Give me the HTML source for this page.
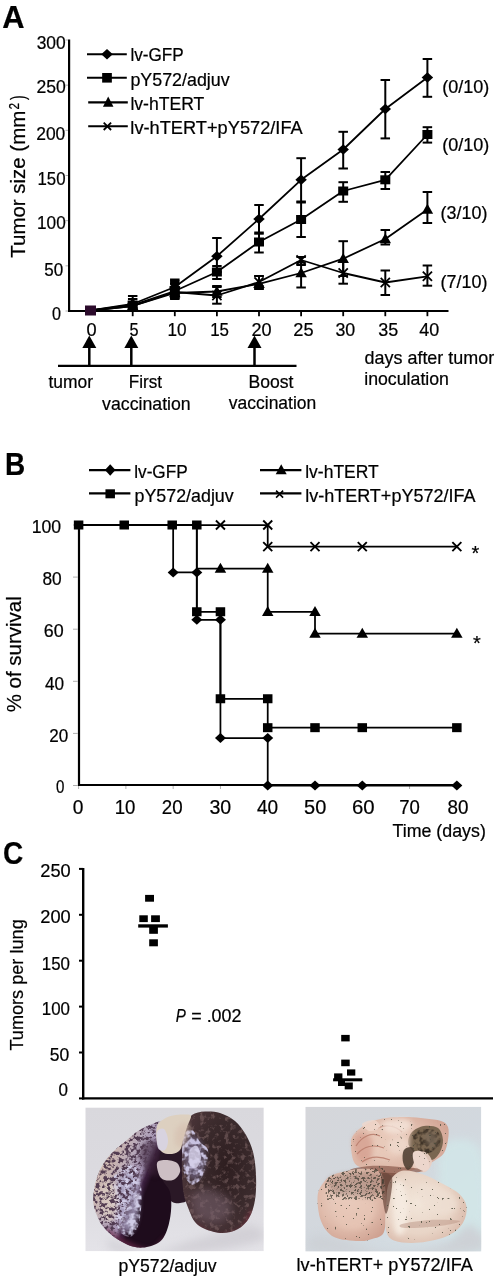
<!DOCTYPE html>
<html><head><meta charset="utf-8"><style>
html,body{margin:0;padding:0;background:#fff;}
svg{display:block;will-change:transform;}
text{font-family:"Liberation Sans",sans-serif;stroke:#000;stroke-width:0.22px;}
</style></head><body>
<svg width="496" height="1280" viewBox="0 0 496 1280">
<rect width="496" height="1280" fill="#ffffff"/>
<text x="2.22" y="27.90" font-size="30.5" font-weight="bold" textLength="22.27" lengthAdjust="spacingAndGlyphs" fill="#000">A</text>
<line x1="69.10" y1="39.50" x2="69.10" y2="312.10" stroke="#000" stroke-width="2.2"/>
<line x1="68.00" y1="311.00" x2="448.50" y2="311.00" stroke="#000" stroke-width="2.2"/>
<line x1="65.50" y1="311.00" x2="68.00" y2="311.00" stroke="#b0b0b0" stroke-width="1"/>
<line x1="65.50" y1="265.83" x2="68.00" y2="265.83" stroke="#b0b0b0" stroke-width="1"/>
<line x1="65.50" y1="220.67" x2="68.00" y2="220.67" stroke="#b0b0b0" stroke-width="1"/>
<line x1="65.50" y1="175.50" x2="68.00" y2="175.50" stroke="#b0b0b0" stroke-width="1"/>
<line x1="65.50" y1="130.33" x2="68.00" y2="130.33" stroke="#b0b0b0" stroke-width="1"/>
<line x1="65.50" y1="85.17" x2="68.00" y2="85.17" stroke="#b0b0b0" stroke-width="1"/>
<line x1="65.50" y1="40.00" x2="68.00" y2="40.00" stroke="#b0b0b0" stroke-width="1"/>
<line x1="132.70" y1="312.00" x2="132.70" y2="316.20" stroke="#000" stroke-width="1.8"/>
<line x1="174.80" y1="312.00" x2="174.80" y2="316.20" stroke="#000" stroke-width="1.8"/>
<line x1="216.90" y1="312.00" x2="216.90" y2="316.20" stroke="#000" stroke-width="1.8"/>
<line x1="259.00" y1="312.00" x2="259.00" y2="316.20" stroke="#000" stroke-width="1.8"/>
<line x1="301.10" y1="312.00" x2="301.10" y2="316.20" stroke="#000" stroke-width="1.8"/>
<line x1="343.20" y1="312.00" x2="343.20" y2="316.20" stroke="#000" stroke-width="1.8"/>
<line x1="385.30" y1="312.00" x2="385.30" y2="316.20" stroke="#000" stroke-width="1.8"/>
<line x1="427.40" y1="312.00" x2="427.40" y2="316.20" stroke="#000" stroke-width="1.8"/>
<text x="36.66" y="49.10" font-size="18.2" textLength="29.08" lengthAdjust="spacingAndGlyphs" fill="#000">300</text>
<text x="36.38" y="93.45" font-size="18.2" textLength="29.36" lengthAdjust="spacingAndGlyphs" fill="#000">250</text>
<text x="36.18" y="140.30" font-size="18.2" textLength="29.15" lengthAdjust="spacingAndGlyphs" fill="#000">200</text>
<text x="37.45" y="184.60" font-size="18.2" textLength="28.07" lengthAdjust="spacingAndGlyphs" fill="#000">150</text>
<text x="37.02" y="229.30" font-size="18.2" textLength="28.70" lengthAdjust="spacingAndGlyphs" fill="#000">100</text>
<text x="44.17" y="275.70" font-size="18.2" textLength="18.96" lengthAdjust="spacingAndGlyphs" fill="#000">50</text>
<text x="51.99" y="319.70" font-size="18.2" textLength="9.01" lengthAdjust="spacingAndGlyphs" fill="#000">0</text>
<text x="86.53" y="335.50" font-size="18.2" textLength="10.12" lengthAdjust="spacingAndGlyphs" fill="#000">0</text>
<text x="129.39" y="335.50" font-size="18.2" textLength="9.07" lengthAdjust="spacingAndGlyphs" fill="#000">5</text>
<text x="167.53" y="335.50" font-size="18.2" textLength="19.10" lengthAdjust="spacingAndGlyphs" fill="#000">10</text>
<text x="210.14" y="335.50" font-size="18.2" textLength="18.85" lengthAdjust="spacingAndGlyphs" fill="#000">15</text>
<text x="251.45" y="335.50" font-size="18.2" textLength="20.10" lengthAdjust="spacingAndGlyphs" fill="#000">20</text>
<text x="293.34" y="335.50" font-size="18.2" textLength="20.29" lengthAdjust="spacingAndGlyphs" fill="#000">25</text>
<text x="335.44" y="335.50" font-size="18.2" textLength="19.80" lengthAdjust="spacingAndGlyphs" fill="#000">30</text>
<text x="378.34" y="335.50" font-size="18.2" textLength="19.99" lengthAdjust="spacingAndGlyphs" fill="#000">35</text>
<text x="419.22" y="335.50" font-size="18.2" textLength="19.93" lengthAdjust="spacingAndGlyphs" fill="#000">40</text>
<text transform="rotate(-90)" x="-257.72" y="24.90" font-size="20" textLength="146.98" lengthAdjust="spacingAndGlyphs">Tumor size (mm</text>
<text transform="rotate(-90)" x="-109.55" y="18.70" font-size="14" textLength="6.53" lengthAdjust="spacingAndGlyphs">2</text>
<text transform="rotate(-90)" x="-100.10" y="24.90" font-size="20" textLength="4.74" lengthAdjust="spacingAndGlyphs">)</text>
<line x1="132.70" y1="296.00" x2="132.70" y2="308.00" stroke="#000" stroke-width="2"/>
<line x1="127.95" y1="296.00" x2="137.45" y2="296.00" stroke="#000" stroke-width="2"/>
<line x1="127.95" y1="308.00" x2="137.45" y2="308.00" stroke="#000" stroke-width="2"/>
<line x1="174.80" y1="279.50" x2="174.80" y2="295.00" stroke="#000" stroke-width="2"/>
<line x1="170.05" y1="279.50" x2="179.55" y2="279.50" stroke="#000" stroke-width="2"/>
<line x1="170.05" y1="295.00" x2="179.55" y2="295.00" stroke="#000" stroke-width="2"/>
<line x1="216.90" y1="238.00" x2="216.90" y2="272.00" stroke="#000" stroke-width="2"/>
<line x1="212.15" y1="238.00" x2="221.65" y2="238.00" stroke="#000" stroke-width="2"/>
<line x1="212.15" y1="272.00" x2="221.65" y2="272.00" stroke="#000" stroke-width="2"/>
<line x1="259.00" y1="205.00" x2="259.00" y2="232.50" stroke="#000" stroke-width="2"/>
<line x1="254.25" y1="205.00" x2="263.75" y2="205.00" stroke="#000" stroke-width="2"/>
<line x1="254.25" y1="232.50" x2="263.75" y2="232.50" stroke="#000" stroke-width="2"/>
<line x1="301.10" y1="158.20" x2="301.10" y2="201.50" stroke="#000" stroke-width="2"/>
<line x1="296.35" y1="158.20" x2="305.85" y2="158.20" stroke="#000" stroke-width="2"/>
<line x1="296.35" y1="201.50" x2="305.85" y2="201.50" stroke="#000" stroke-width="2"/>
<line x1="343.20" y1="131.80" x2="343.20" y2="168.50" stroke="#000" stroke-width="2"/>
<line x1="338.45" y1="131.80" x2="347.95" y2="131.80" stroke="#000" stroke-width="2"/>
<line x1="338.45" y1="168.50" x2="347.95" y2="168.50" stroke="#000" stroke-width="2"/>
<line x1="385.30" y1="80.00" x2="385.30" y2="138.40" stroke="#000" stroke-width="2"/>
<line x1="380.55" y1="80.00" x2="390.05" y2="80.00" stroke="#000" stroke-width="2"/>
<line x1="380.55" y1="138.40" x2="390.05" y2="138.40" stroke="#000" stroke-width="2"/>
<line x1="427.40" y1="59.00" x2="427.40" y2="96.80" stroke="#000" stroke-width="2"/>
<line x1="422.65" y1="59.00" x2="432.15" y2="59.00" stroke="#000" stroke-width="2"/>
<line x1="422.65" y1="96.80" x2="432.15" y2="96.80" stroke="#000" stroke-width="2"/>
<line x1="132.70" y1="299.00" x2="132.70" y2="310.00" stroke="#000" stroke-width="2"/>
<line x1="127.95" y1="299.00" x2="137.45" y2="299.00" stroke="#000" stroke-width="2"/>
<line x1="127.95" y1="310.00" x2="137.45" y2="310.00" stroke="#000" stroke-width="2"/>
<line x1="174.80" y1="281.00" x2="174.80" y2="297.00" stroke="#000" stroke-width="2"/>
<line x1="170.05" y1="281.00" x2="179.55" y2="281.00" stroke="#000" stroke-width="2"/>
<line x1="170.05" y1="297.00" x2="179.55" y2="297.00" stroke="#000" stroke-width="2"/>
<line x1="216.90" y1="266.00" x2="216.90" y2="279.00" stroke="#000" stroke-width="2"/>
<line x1="212.15" y1="266.00" x2="221.65" y2="266.00" stroke="#000" stroke-width="2"/>
<line x1="212.15" y1="279.00" x2="221.65" y2="279.00" stroke="#000" stroke-width="2"/>
<line x1="259.00" y1="233.70" x2="259.00" y2="252.50" stroke="#000" stroke-width="2"/>
<line x1="254.25" y1="233.70" x2="263.75" y2="233.70" stroke="#000" stroke-width="2"/>
<line x1="254.25" y1="252.50" x2="263.75" y2="252.50" stroke="#000" stroke-width="2"/>
<line x1="301.10" y1="202.50" x2="301.10" y2="237.00" stroke="#000" stroke-width="2"/>
<line x1="296.35" y1="202.50" x2="305.85" y2="202.50" stroke="#000" stroke-width="2"/>
<line x1="296.35" y1="237.00" x2="305.85" y2="237.00" stroke="#000" stroke-width="2"/>
<line x1="343.20" y1="182.20" x2="343.20" y2="201.80" stroke="#000" stroke-width="2"/>
<line x1="338.45" y1="182.20" x2="347.95" y2="182.20" stroke="#000" stroke-width="2"/>
<line x1="338.45" y1="201.80" x2="347.95" y2="201.80" stroke="#000" stroke-width="2"/>
<line x1="385.30" y1="172.00" x2="385.30" y2="189.00" stroke="#000" stroke-width="2"/>
<line x1="380.55" y1="172.00" x2="390.05" y2="172.00" stroke="#000" stroke-width="2"/>
<line x1="380.55" y1="189.00" x2="390.05" y2="189.00" stroke="#000" stroke-width="2"/>
<line x1="427.40" y1="127.20" x2="427.40" y2="142.60" stroke="#000" stroke-width="2"/>
<line x1="422.65" y1="127.20" x2="432.15" y2="127.20" stroke="#000" stroke-width="2"/>
<line x1="422.65" y1="142.60" x2="432.15" y2="142.60" stroke="#000" stroke-width="2"/>
<line x1="174.80" y1="284.00" x2="174.80" y2="298.00" stroke="#000" stroke-width="2"/>
<line x1="170.05" y1="284.00" x2="179.55" y2="284.00" stroke="#000" stroke-width="2"/>
<line x1="170.05" y1="298.00" x2="179.55" y2="298.00" stroke="#000" stroke-width="2"/>
<line x1="216.90" y1="287.00" x2="216.90" y2="297.00" stroke="#000" stroke-width="2"/>
<line x1="212.15" y1="287.00" x2="221.65" y2="287.00" stroke="#000" stroke-width="2"/>
<line x1="212.15" y1="297.00" x2="221.65" y2="297.00" stroke="#000" stroke-width="2"/>
<line x1="259.00" y1="276.00" x2="259.00" y2="289.00" stroke="#000" stroke-width="2"/>
<line x1="254.25" y1="276.00" x2="263.75" y2="276.00" stroke="#000" stroke-width="2"/>
<line x1="254.25" y1="289.00" x2="263.75" y2="289.00" stroke="#000" stroke-width="2"/>
<line x1="301.10" y1="262.50" x2="301.10" y2="287.50" stroke="#000" stroke-width="2"/>
<line x1="296.35" y1="262.50" x2="305.85" y2="262.50" stroke="#000" stroke-width="2"/>
<line x1="296.35" y1="287.50" x2="305.85" y2="287.50" stroke="#000" stroke-width="2"/>
<line x1="343.20" y1="241.20" x2="343.20" y2="276.00" stroke="#000" stroke-width="2"/>
<line x1="338.45" y1="241.20" x2="347.95" y2="241.20" stroke="#000" stroke-width="2"/>
<line x1="338.45" y1="276.00" x2="347.95" y2="276.00" stroke="#000" stroke-width="2"/>
<line x1="385.30" y1="230.00" x2="385.30" y2="244.50" stroke="#000" stroke-width="2"/>
<line x1="380.55" y1="230.00" x2="390.05" y2="230.00" stroke="#000" stroke-width="2"/>
<line x1="380.55" y1="244.50" x2="390.05" y2="244.50" stroke="#000" stroke-width="2"/>
<line x1="427.40" y1="192.00" x2="427.40" y2="223.00" stroke="#000" stroke-width="2"/>
<line x1="422.65" y1="192.00" x2="432.15" y2="192.00" stroke="#000" stroke-width="2"/>
<line x1="422.65" y1="223.00" x2="432.15" y2="223.00" stroke="#000" stroke-width="2"/>
<line x1="174.80" y1="283.00" x2="174.80" y2="299.00" stroke="#000" stroke-width="2"/>
<line x1="170.05" y1="283.00" x2="179.55" y2="283.00" stroke="#000" stroke-width="2"/>
<line x1="170.05" y1="299.00" x2="179.55" y2="299.00" stroke="#000" stroke-width="2"/>
<line x1="216.90" y1="286.00" x2="216.90" y2="303.70" stroke="#000" stroke-width="2"/>
<line x1="212.15" y1="286.00" x2="221.65" y2="286.00" stroke="#000" stroke-width="2"/>
<line x1="212.15" y1="303.70" x2="221.65" y2="303.70" stroke="#000" stroke-width="2"/>
<line x1="259.00" y1="276.00" x2="259.00" y2="288.70" stroke="#000" stroke-width="2"/>
<line x1="254.25" y1="276.00" x2="263.75" y2="276.00" stroke="#000" stroke-width="2"/>
<line x1="254.25" y1="288.70" x2="263.75" y2="288.70" stroke="#000" stroke-width="2"/>
<line x1="301.10" y1="257.00" x2="301.10" y2="265.00" stroke="#000" stroke-width="2"/>
<line x1="296.35" y1="257.00" x2="305.85" y2="257.00" stroke="#000" stroke-width="2"/>
<line x1="296.35" y1="265.00" x2="305.85" y2="265.00" stroke="#000" stroke-width="2"/>
<line x1="343.20" y1="262.00" x2="343.20" y2="283.70" stroke="#000" stroke-width="2"/>
<line x1="338.45" y1="262.00" x2="347.95" y2="262.00" stroke="#000" stroke-width="2"/>
<line x1="338.45" y1="283.70" x2="347.95" y2="283.70" stroke="#000" stroke-width="2"/>
<line x1="385.30" y1="270.50" x2="385.30" y2="295.00" stroke="#000" stroke-width="2"/>
<line x1="380.55" y1="270.50" x2="390.05" y2="270.50" stroke="#000" stroke-width="2"/>
<line x1="380.55" y1="295.00" x2="390.05" y2="295.00" stroke="#000" stroke-width="2"/>
<line x1="427.40" y1="265.50" x2="427.40" y2="285.70" stroke="#000" stroke-width="2"/>
<line x1="422.65" y1="265.50" x2="432.15" y2="265.50" stroke="#000" stroke-width="2"/>
<line x1="422.65" y1="285.70" x2="432.15" y2="285.70" stroke="#000" stroke-width="2"/>
<polyline points="90.60,310.50 132.70,304.00 174.80,287.00 216.90,256.20 259.00,219.00 301.10,179.80 343.20,149.50 385.30,109.00 427.40,77.50" fill="none" stroke="#000" stroke-width="1.8" stroke-linejoin="round"/>
<polyline points="90.60,310.50 132.70,305.00 174.80,291.00 216.90,272.00 259.00,242.00 301.10,219.50 343.20,191.00 385.30,179.80 427.40,134.50" fill="none" stroke="#000" stroke-width="1.8" stroke-linejoin="round"/>
<polyline points="90.60,310.50 132.70,306.00 174.80,293.00 216.90,291.50 259.00,283.80 301.10,273.00 343.20,258.70 385.30,239.00 427.40,209.50" fill="none" stroke="#000" stroke-width="1.8" stroke-linejoin="round"/>
<polyline points="90.60,310.50 132.70,306.00 174.80,292.00 216.90,295.50 259.00,282.00 301.10,260.00 343.20,273.00 385.30,282.50 427.40,276.30" fill="none" stroke="#000" stroke-width="1.8" stroke-linejoin="round"/>
<path d="M126.95,304.00L132.70,298.75L138.45,304.00L132.70,309.25Z" fill="#000"/>
<path d="M169.05,287.00L174.80,281.75L180.55,287.00L174.80,292.25Z" fill="#000"/>
<path d="M211.15,256.20L216.90,250.95L222.65,256.20L216.90,261.45Z" fill="#000"/>
<path d="M253.25,219.00L259.00,213.75L264.75,219.00L259.00,224.25Z" fill="#000"/>
<path d="M295.35,179.80L301.10,174.55L306.85,179.80L301.10,185.05Z" fill="#000"/>
<path d="M337.45,149.50L343.20,144.25L348.95,149.50L343.20,154.75Z" fill="#000"/>
<path d="M379.55,109.00L385.30,103.75L391.05,109.00L385.30,114.25Z" fill="#000"/>
<path d="M421.65,77.50L427.40,72.25L433.15,77.50L427.40,82.75Z" fill="#000"/>
<rect x="127.70" y="300.50" width="10" height="9" fill="#000"/>
<rect x="169.80" y="286.50" width="10" height="9" fill="#000"/>
<rect x="211.90" y="267.50" width="10" height="9" fill="#000"/>
<rect x="254.00" y="237.50" width="10" height="9" fill="#000"/>
<rect x="296.10" y="215.00" width="10" height="9" fill="#000"/>
<rect x="338.20" y="186.50" width="10" height="9" fill="#000"/>
<rect x="380.30" y="175.30" width="10" height="9" fill="#000"/>
<rect x="422.40" y="130.00" width="10" height="9" fill="#000"/>
<path d="M126.95,310.20L132.70,300.20L138.45,310.20Z" fill="#000"/>
<path d="M169.05,297.20L174.80,287.20L180.55,297.20Z" fill="#000"/>
<path d="M211.15,295.70L216.90,285.70L222.65,295.70Z" fill="#000"/>
<path d="M253.25,288.00L259.00,278.00L264.75,288.00Z" fill="#000"/>
<path d="M295.35,277.20L301.10,267.20L306.85,277.20Z" fill="#000"/>
<path d="M337.45,262.90L343.20,252.90L348.95,262.90Z" fill="#000"/>
<path d="M379.55,243.20L385.30,233.20L391.05,243.20Z" fill="#000"/>
<path d="M421.65,213.70L427.40,203.70L433.15,213.70Z" fill="#000"/>
<path d="M128.10,301.40L137.30,310.60M128.10,310.60L137.30,301.40" stroke="#000" stroke-width="1.8" fill="none"/>
<path d="M170.20,287.40L179.40,296.60M170.20,296.60L179.40,287.40" stroke="#000" stroke-width="1.8" fill="none"/>
<path d="M212.30,290.90L221.50,300.10M212.30,300.10L221.50,290.90" stroke="#000" stroke-width="1.8" fill="none"/>
<path d="M254.40,277.40L263.60,286.60M254.40,286.60L263.60,277.40" stroke="#000" stroke-width="1.8" fill="none"/>
<path d="M296.50,255.40L305.70,264.60M296.50,264.60L305.70,255.40" stroke="#000" stroke-width="1.8" fill="none"/>
<path d="M338.60,268.40L347.80,277.60M338.60,277.60L347.80,268.40" stroke="#000" stroke-width="1.8" fill="none"/>
<path d="M380.70,277.90L389.90,287.10M380.70,287.10L389.90,277.90" stroke="#000" stroke-width="1.8" fill="none"/>
<path d="M422.80,271.70L432.00,280.90M422.80,280.90L432.00,271.70" stroke="#000" stroke-width="1.8" fill="none"/>
<rect x="85.00" y="305.50" width="11" height="10" fill="#2b0a2b"/>
<line x1="87.00" y1="54.20" x2="126.80" y2="54.20" stroke="#000" stroke-width="2.1"/>
<path d="M101.25,54.20L107.00,48.95L112.75,54.20L107.00,59.45Z" fill="#000"/>
<line x1="87.00" y1="77.80" x2="126.80" y2="77.80" stroke="#000" stroke-width="2.1"/>
<rect x="102.15" y="73.00" width="9.7" height="9.6" fill="#000"/>
<line x1="88.20" y1="102.40" x2="127.80" y2="102.40" stroke="#000" stroke-width="2.1"/>
<path d="M102.95,106.68L108.20,96.48L113.45,106.68Z" fill="#000"/>
<line x1="88.20" y1="126.30" x2="127.80" y2="126.30" stroke="#000" stroke-width="2.1"/>
<path d="M103.70,122.60L111.10,130.00M103.70,130.00L111.10,122.60" stroke="#000" stroke-width="1.8" fill="none"/>
<text x="130.43" y="61.30" font-size="18.2" textLength="53.29" lengthAdjust="spacingAndGlyphs" fill="#000">lv-GFP</text>
<text x="130.38" y="85.50" font-size="18.2" textLength="99.32" lengthAdjust="spacingAndGlyphs" fill="#000">pY572/adjuv</text>
<text x="130.40" y="109.90" font-size="18.2" textLength="73.90" lengthAdjust="spacingAndGlyphs" fill="#000">lv-hTERT</text>
<text x="130.36" y="134.20" font-size="18.2" textLength="172.35" lengthAdjust="spacingAndGlyphs" fill="#000">lv-hTERT+pY572/IFA</text>
<text x="442.16" y="93.30" font-size="18.2" textLength="47.08" lengthAdjust="spacingAndGlyphs" fill="#000">(0/10)</text>
<text x="442.16" y="150.50" font-size="18.2" textLength="47.08" lengthAdjust="spacingAndGlyphs" fill="#000">(0/10)</text>
<text x="440.56" y="219.30" font-size="18.2" textLength="46.87" lengthAdjust="spacingAndGlyphs" fill="#000">(3/10)</text>
<text x="440.56" y="288.20" font-size="18.2" textLength="46.87" lengthAdjust="spacingAndGlyphs" fill="#000">(7/10)</text>
<line x1="58.00" y1="365.80" x2="296.50" y2="365.80" stroke="#000" stroke-width="2.2"/>
<line x1="89.30" y1="347.00" x2="89.30" y2="365.80" stroke="#000" stroke-width="2.5"/>
<path d="M82.30,348L89.30,335.5L96.30,348Z" fill="#000"/>
<line x1="131.30" y1="347.00" x2="131.30" y2="365.80" stroke="#000" stroke-width="2.5"/>
<path d="M124.30,348L131.30,335.5L138.30,348Z" fill="#000"/>
<line x1="254.50" y1="347.00" x2="254.50" y2="365.80" stroke="#000" stroke-width="2.5"/>
<path d="M247.50,348L254.50,335.5L261.50,348Z" fill="#000"/>
<text x="48.40" y="387.60" font-size="18.2" textLength="44.59" lengthAdjust="spacingAndGlyphs" fill="#000">tumor</text>
<text x="128.87" y="387.60" font-size="18.2" textLength="33.18" lengthAdjust="spacingAndGlyphs" fill="#000">First</text>
<text x="102.10" y="410.20" font-size="18.2" textLength="88.59" lengthAdjust="spacingAndGlyphs" fill="#000">vaccination</text>
<text x="248.42" y="387.60" font-size="18.2" textLength="45.02" lengthAdjust="spacingAndGlyphs" fill="#000">Boost</text>
<text x="228.80" y="409.20" font-size="18.2" textLength="87.48" lengthAdjust="spacingAndGlyphs" fill="#000">vaccination</text>
<text x="364.54" y="363.80" font-size="18.2" textLength="129.65" lengthAdjust="spacingAndGlyphs" fill="#000">days after tumor</text>
<text x="364.19" y="385.20" font-size="18.2" textLength="84.80" lengthAdjust="spacingAndGlyphs" fill="#000">inoculation</text>
<text x="5.05" y="474.80" font-size="30.5" font-weight="bold" textLength="20.22" lengthAdjust="spacingAndGlyphs" fill="#000">B</text>
<line x1="79.00" y1="524.00" x2="79.00" y2="786.10" stroke="#000" stroke-width="2.2"/>
<line x1="78.00" y1="785.00" x2="461.00" y2="785.00" stroke="#000" stroke-width="2.2"/>
<line x1="73.00" y1="785.50" x2="77.90" y2="785.50" stroke="#b0b0b0" stroke-width="1"/>
<line x1="73.00" y1="733.40" x2="77.90" y2="733.40" stroke="#b0b0b0" stroke-width="1"/>
<line x1="73.00" y1="681.30" x2="77.90" y2="681.30" stroke="#b0b0b0" stroke-width="1"/>
<line x1="73.00" y1="629.20" x2="77.90" y2="629.20" stroke="#b0b0b0" stroke-width="1"/>
<line x1="73.00" y1="577.10" x2="77.90" y2="577.10" stroke="#b0b0b0" stroke-width="1"/>
<line x1="73.00" y1="525.00" x2="77.90" y2="525.00" stroke="#b0b0b0" stroke-width="1"/>
<line x1="78.60" y1="786.00" x2="78.60" y2="789.00" stroke="#b0b0b0" stroke-width="1"/>
<line x1="125.88" y1="786.00" x2="125.88" y2="789.00" stroke="#b0b0b0" stroke-width="1"/>
<line x1="173.16" y1="786.00" x2="173.16" y2="789.00" stroke="#b0b0b0" stroke-width="1"/>
<line x1="220.44" y1="786.00" x2="220.44" y2="789.00" stroke="#b0b0b0" stroke-width="1"/>
<line x1="267.72" y1="786.00" x2="267.72" y2="789.00" stroke="#b0b0b0" stroke-width="1"/>
<line x1="315.00" y1="786.00" x2="315.00" y2="789.00" stroke="#b0b0b0" stroke-width="1"/>
<line x1="362.28" y1="786.00" x2="362.28" y2="789.00" stroke="#b0b0b0" stroke-width="1"/>
<line x1="409.56" y1="786.00" x2="409.56" y2="789.00" stroke="#b0b0b0" stroke-width="1"/>
<line x1="456.84" y1="786.00" x2="456.84" y2="789.00" stroke="#b0b0b0" stroke-width="1"/>
<text x="31.70" y="533.00" font-size="18.2" textLength="29.44" lengthAdjust="spacingAndGlyphs" fill="#000">100</text>
<text x="42.46" y="584.80" font-size="18.2" textLength="19.27" lengthAdjust="spacingAndGlyphs" fill="#000">80</text>
<text x="43.86" y="636.70" font-size="18.2" textLength="19.88" lengthAdjust="spacingAndGlyphs" fill="#000">60</text>
<text x="45.03" y="689.70" font-size="18.2" textLength="19.10" lengthAdjust="spacingAndGlyphs" fill="#000">40</text>
<text x="49.25" y="741.60" font-size="18.2" textLength="18.97" lengthAdjust="spacingAndGlyphs" fill="#000">20</text>
<text x="56.08" y="792.80" font-size="18.2" textLength="8.40" lengthAdjust="spacingAndGlyphs" fill="#000">0</text>
<text x="72.80" y="813.50" font-size="20.6" textLength="10.68" lengthAdjust="spacingAndGlyphs" fill="#000">0</text>
<text x="114.64" y="813.50" font-size="20.6" textLength="20.73" lengthAdjust="spacingAndGlyphs" fill="#000">10</text>
<text x="161.82" y="813.50" font-size="20.6" textLength="20.85" lengthAdjust="spacingAndGlyphs" fill="#000">20</text>
<text x="209.39" y="813.50" font-size="20.6" textLength="21.80" lengthAdjust="spacingAndGlyphs" fill="#000">30</text>
<text x="256.90" y="813.50" font-size="20.6" textLength="21.17" lengthAdjust="spacingAndGlyphs" fill="#000">40</text>
<text x="304.08" y="813.50" font-size="20.6" textLength="22.22" lengthAdjust="spacingAndGlyphs" fill="#000">50</text>
<text x="351.94" y="813.50" font-size="20.6" textLength="22.66" lengthAdjust="spacingAndGlyphs" fill="#000">60</text>
<text x="399.23" y="813.50" font-size="20.6" textLength="20.63" lengthAdjust="spacingAndGlyphs" fill="#000">70</text>
<text x="447.41" y="813.50" font-size="20.6" textLength="20.96" lengthAdjust="spacingAndGlyphs" fill="#000">80</text>
<text x="392.52" y="836.80" font-size="18.2" textLength="93.30" lengthAdjust="spacingAndGlyphs" fill="#000">Time (days)</text>
<text transform="rotate(-90)" x="-712.34" y="20.80" font-size="21" textLength="116.09" lengthAdjust="spacingAndGlyphs">% of survival</text>
<polyline points="78.60,525.00 173.16,525.00 173.16,572.41 196.80,572.41 196.80,619.82 220.44,619.82 220.44,738.09 267.72,738.09 267.72,785.50 456.84,785.50" fill="none" stroke="#000" stroke-width="1.75" stroke-linejoin="round"/>
<polyline points="78.60,525.00 196.80,525.00 196.80,611.75 220.44,611.75 220.44,698.75 267.72,698.75 267.72,727.67 456.84,727.67" fill="none" stroke="#000" stroke-width="1.75" stroke-linejoin="round"/>
<polyline points="78.60,525.00 196.80,525.00 196.80,568.50 267.72,568.50 267.72,611.75 315.00,611.75 315.00,633.63 456.84,633.63" fill="none" stroke="#000" stroke-width="1.75" stroke-linejoin="round"/>
<polyline points="78.60,525.00 267.72,525.00 267.72,546.62 456.84,546.62" fill="none" stroke="#000" stroke-width="1.75" stroke-linejoin="round"/>
<path d="M167.66,572.41L173.16,567.41L178.66,572.41L173.16,577.41Z" fill="#000"/>
<path d="M191.30,572.41L196.80,567.41L202.30,572.41L196.80,577.41Z" fill="#000"/>
<path d="M191.30,619.82L196.80,614.82L202.30,619.82L196.80,624.82Z" fill="#000"/>
<path d="M214.94,619.82L220.44,614.82L225.94,619.82L220.44,624.82Z" fill="#000"/>
<path d="M214.94,738.09L220.44,733.09L225.94,738.09L220.44,743.09Z" fill="#000"/>
<path d="M262.22,738.09L267.72,733.09L273.22,738.09L267.72,743.09Z" fill="#000"/>
<path d="M262.22,785.50L267.72,780.50L273.22,785.50L267.72,790.50Z" fill="#000"/>
<path d="M309.50,785.50L315.00,780.50L320.50,785.50L315.00,790.50Z" fill="#000"/>
<path d="M356.78,785.50L362.28,780.50L367.78,785.50L362.28,790.50Z" fill="#000"/>
<path d="M451.34,785.50L456.84,780.50L462.34,785.50L456.84,790.50Z" fill="#000"/>
<rect x="73.85" y="520.50" width="9.5" height="9" fill="#000"/>
<rect x="119.48" y="520.50" width="9.5" height="9" fill="#000"/>
<rect x="167.46" y="520.50" width="9.5" height="9" fill="#000"/>
<rect x="192.05" y="520.50" width="9.5" height="9" fill="#000"/>
<rect x="192.05" y="607.25" width="9.5" height="9" fill="#000"/>
<rect x="215.69" y="607.25" width="9.5" height="9" fill="#000"/>
<rect x="215.69" y="694.25" width="9.5" height="9" fill="#000"/>
<rect x="262.97" y="694.25" width="9.5" height="9" fill="#000"/>
<rect x="262.97" y="723.17" width="9.5" height="9" fill="#000"/>
<rect x="310.25" y="723.17" width="9.5" height="9" fill="#000"/>
<rect x="357.53" y="723.17" width="9.5" height="9" fill="#000"/>
<rect x="452.09" y="723.17" width="9.5" height="9" fill="#000"/>
<path d="M214.69,572.70L220.44,562.70L226.19,572.70Z" fill="#000"/>
<path d="M261.97,572.70L267.72,562.70L273.47,572.70Z" fill="#000"/>
<path d="M261.97,615.95L267.72,605.95L273.47,615.95Z" fill="#000"/>
<path d="M309.25,615.95L315.00,605.95L320.75,615.95Z" fill="#000"/>
<path d="M309.25,637.83L315.00,627.83L320.75,637.83Z" fill="#000"/>
<path d="M356.53,637.83L362.28,627.83L368.03,637.83Z" fill="#000"/>
<path d="M451.09,637.83L456.84,627.83L462.59,637.83Z" fill="#000"/>
<path d="M215.94,520.50L224.94,529.50M215.94,529.50L224.94,520.50" stroke="#000" stroke-width="1.9" fill="none"/>
<path d="M263.22,520.50L272.22,529.50M263.22,529.50L272.22,520.50" stroke="#000" stroke-width="1.9" fill="none"/>
<path d="M263.22,542.12L272.22,551.12M263.22,551.12L272.22,542.12" stroke="#000" stroke-width="1.9" fill="none"/>
<path d="M310.50,542.12L319.50,551.12M310.50,551.12L319.50,542.12" stroke="#000" stroke-width="1.9" fill="none"/>
<path d="M357.78,542.12L366.78,551.12M357.78,551.12L366.78,542.12" stroke="#000" stroke-width="1.9" fill="none"/>
<path d="M452.34,542.12L461.34,551.12M452.34,551.12L461.34,542.12" stroke="#000" stroke-width="1.9" fill="none"/>
<text x="471.4" y="560" font-size="20">*</text>
<text x="473" y="649.5" font-size="20">*</text>
<line x1="89.00" y1="470.10" x2="130.40" y2="470.10" stroke="#000" stroke-width="2.2"/>
<path d="M104.95,470.10L110.20,464.35L115.45,470.10L110.20,475.85Z" fill="#000"/>
<line x1="89.00" y1="493.30" x2="130.40" y2="493.30" stroke="#000" stroke-width="2.2"/>
<rect x="105.45" y="489.30" width="9.5" height="9" fill="#000"/>
<line x1="260.00" y1="470.10" x2="301.40" y2="470.10" stroke="#000" stroke-width="2.2"/>
<path d="M275.70,474.30L281.20,464.30L286.70,474.30Z" fill="#000"/>
<line x1="260.00" y1="493.30" x2="301.40" y2="493.30" stroke="#000" stroke-width="2.2"/>
<path d="M276.10,490.60L283.10,497.60M276.10,497.60L283.10,490.60" stroke="#000" stroke-width="1.6" fill="none"/>
<text x="134.23" y="478.00" font-size="18.2" textLength="53.50" lengthAdjust="spacingAndGlyphs" fill="#000">lv-GFP</text>
<text x="134.48" y="501.50" font-size="18.2" textLength="99.22" lengthAdjust="spacingAndGlyphs" fill="#000">pY572/adjuv</text>
<text x="305.21" y="478.00" font-size="18.2" textLength="73.59" lengthAdjust="spacingAndGlyphs" fill="#000">lv-hTERT</text>
<text x="305.17" y="501.80" font-size="18.2" textLength="170.34" lengthAdjust="spacingAndGlyphs" fill="#000">lv-hTERT+pY572/IFA</text>
<text x="3.03" y="864.00" font-size="30.5" font-weight="bold" textLength="20.21" lengthAdjust="spacingAndGlyphs" fill="#000">C</text>
<line x1="83.20" y1="868.00" x2="83.20" y2="1099.50" stroke="#000" stroke-width="2.4"/>
<line x1="82.00" y1="1098.40" x2="493.00" y2="1098.40" stroke="#000" stroke-width="2.2"/>
<line x1="79.00" y1="1098.40" x2="83.00" y2="1098.40" stroke="#000" stroke-width="2.0"/>
<line x1="79.00" y1="1052.50" x2="83.00" y2="1052.50" stroke="#000" stroke-width="2.0"/>
<line x1="79.00" y1="1006.60" x2="83.00" y2="1006.60" stroke="#000" stroke-width="2.0"/>
<line x1="79.00" y1="960.70" x2="83.00" y2="960.70" stroke="#000" stroke-width="2.0"/>
<line x1="79.00" y1="914.80" x2="83.00" y2="914.80" stroke="#000" stroke-width="2.0"/>
<line x1="79.00" y1="868.90" x2="83.00" y2="868.90" stroke="#000" stroke-width="2.0"/>
<text x="40.35" y="876.90" font-size="18.2" textLength="30.41" lengthAdjust="spacingAndGlyphs" fill="#000">250</text>
<text x="40.35" y="922.80" font-size="18.2" textLength="30.41" lengthAdjust="spacingAndGlyphs" fill="#000">200</text>
<text x="41.84" y="969.60" font-size="18.2" textLength="28.18" lengthAdjust="spacingAndGlyphs" fill="#000">150</text>
<text x="41.84" y="1014.90" font-size="18.2" textLength="28.18" lengthAdjust="spacingAndGlyphs" fill="#000">100</text>
<text x="49.65" y="1060.80" font-size="18.2" textLength="19.48" lengthAdjust="spacingAndGlyphs" fill="#000">50</text>
<text x="58.47" y="1096.30" font-size="18.2" textLength="9.45" lengthAdjust="spacingAndGlyphs" fill="#000">0</text>
<text transform="rotate(-90)" x="-1050.58" y="22.70" font-size="17.6" textLength="131.30" lengthAdjust="spacingAndGlyphs">Tumors per lung</text>
<rect x="145.1" y="894.9" width="8.90" height="6.80" fill="#000"/>
<rect x="139.3" y="915.3" width="8.50" height="6.80" fill="#000"/>
<rect x="151.1" y="915.3" width="8.80" height="6.80" fill="#000"/>
<rect x="149.2" y="926" width="8.70" height="7.80" fill="#000"/>
<rect x="149.2" y="939.3" width="8.70" height="7.00" fill="#000"/>
<rect x="138.2" y="924.3" width="29.7" height="3.3" fill="#000"/>
<rect x="341.2" y="1034.9" width="8.50" height="6.50" fill="#000"/>
<rect x="341.2" y="1059.6" width="8.50" height="6.60" fill="#000"/>
<rect x="347.0" y="1069.4" width="8.30" height="6.20" fill="#000"/>
<rect x="334.1" y="1073.4" width="8.30" height="6.60" fill="#000"/>
<rect x="338.0" y="1079.5" width="7.00" height="6.50" fill="#000"/>
<rect x="344.7" y="1082.5" width="8.10" height="6.90" fill="#000"/>
<rect x="333.1" y="1078.3" width="29.2" height="3.0" fill="#000"/>
<text x="175.66" y="1022.10" font-size="18.2" font-style="italic" textLength="10.06" lengthAdjust="spacingAndGlyphs" fill="#000">P</text>
<text x="191.26" y="1022.10" font-size="18.2" textLength="50.16" lengthAdjust="spacingAndGlyphs" fill="#000">= .002</text>
<text x="118.40" y="1271.70" font-size="18.2" textLength="98.20" lengthAdjust="spacingAndGlyphs" fill="#000">pY572/adjuv</text>
<text x="296.57" y="1271.30" font-size="18.2" textLength="176.24" lengthAdjust="spacingAndGlyphs" fill="#000">lv-hTERT+ pY572/IFA</text>
<defs>
<clipPath id="clipL"><rect x="85.3" y="1107.4" width="178.5" height="143.9"/></clipPath>
<clipPath id="clipR"><rect x="305.3" y="1106.8" width="176" height="144.8"/></clipPath>
<linearGradient id="bgL" x1="0" y1="0" x2="0" y2="1">
  <stop offset="0" stop-color="#d9d8dd"/><stop offset="0.6" stop-color="#dcdbe0"/><stop offset="1" stop-color="#e4e3e8"/>
</linearGradient>
<linearGradient id="bgR" x1="0" y1="0" x2="1" y2="1">
  <stop offset="0" stop-color="#d5d6da"/><stop offset="0.55" stop-color="#d2d8de"/><stop offset="1" stop-color="#d6e3e8"/>
</linearGradient>
<filter color-interpolation-filters="sRGB" id="soft" x="-5%" y="-5%" width="110%" height="110%"><feGaussianBlur stdDeviation="0.7"/></filter>
<filter color-interpolation-filters="sRGB" id="soft2" x="-20%" y="-20%" width="140%" height="140%"><feGaussianBlur stdDeviation="2.5"/></filter>
<filter color-interpolation-filters="sRGB" id="soft4" x="-30%" y="-30%" width="160%" height="160%"><feGaussianBlur stdDeviation="4"/></filter>
<filter color-interpolation-filters="sRGB" id="speck" x="0" y="0" width="100%" height="100%">
  <feTurbulence type="fractalNoise" baseFrequency="0.27" numOctaves="3" seed="7" result="n"/>
  <feColorMatrix in="n" type="matrix" values="0 0 0 0 0.3  0 0 0 0 0.21  0 0 0 0 0.3  -6 0 0 0 3.25" result="s0"/>
  <feGaussianBlur in="s0" stdDeviation="0.5" result="s"/>
  <feComposite in="s" in2="SourceGraphic" operator="in"/>
</filter>
<filter color-interpolation-filters="sRGB" id="speck2" x="0" y="0" width="100%" height="100%">
  <feTurbulence type="fractalNoise" baseFrequency="0.2" numOctaves="3" seed="11" result="n"/>
  <feColorMatrix in="n" type="matrix" values="0 0 0 0 0.5  0 0 0 0 0.4  0 0 0 0 0.4  5 0 0 0 -2.6" result="s"/>
  <feComposite in="s" in2="SourceGraphic" operator="in"/>
</filter>
<filter color-interpolation-filters="sRGB" id="speck3" x="0" y="0" width="100%" height="100%">
  <feTurbulence type="fractalNoise" baseFrequency="0.38" numOctaves="2" seed="4" result="n"/>
  <feColorMatrix in="n" type="matrix" values="0 0 0 0 0.3  0 0 0 0 0.3  0 0 0 0 0.24  -30 0 0 0 7.9" result="s"/>
  <feComposite in="s" in2="SourceGraphic" operator="in"/>
</filter>
<filter color-interpolation-filters="sRGB" id="speck4" x="0" y="0" width="100%" height="100%">
  <feTurbulence type="fractalNoise" baseFrequency="0.4" numOctaves="2" seed="9" result="n"/>
  <feColorMatrix in="n" type="matrix" values="0 0 0 0 0.2  0 0 0 0 0.2  0 0 0 0 0.16  -12 0 0 0 5.6" result="s"/>
  <feComposite in="s" in2="SourceGraphic" operator="in"/>
</filter>
<filter color-interpolation-filters="sRGB" id="blotch" x="0" y="0" width="100%" height="100%">
  <feTurbulence type="fractalNoise" baseFrequency="0.2" numOctaves="2" seed="5" result="n"/>
  <feColorMatrix in="n" type="matrix" values="0 0 0 0 0  0 0 0 0 0  0 0 0 0 0  4 0 0 0 -1.6" result="m"/>
  <feComposite in="SourceGraphic" in2="m" operator="in"/>
</filter>
</defs>
<g clip-path="url(#clipL)"><g filter="url(#soft)">
<rect x="85.3" y="1107.4" width="178.5" height="143.9" fill="url(#bgL)"/>
<path d="M110.0,1240.0C115.0,1240.0 135.0,1252.3 150.0,1252.0C165.0,1251.7 183.3,1242.5 200.0,1238.0C216.7,1233.5 239.7,1224.7 250.0,1225.0C260.3,1225.3 270.3,1235.5 262.0,1240.0C253.7,1244.5 223.7,1250.0 200.0,1252.0C176.3,1254.0 135.0,1254.0 120.0,1252.0C105.0,1250.0 105.0,1240.0 110.0,1240.0Z" fill="#d2d0d6" filter="url(#soft4)"/>
<path d="M155.0,1150.0C158.3,1144.2 168.8,1138.3 175.0,1135.0C181.2,1131.7 189.5,1125.8 192.0,1130.0C194.5,1134.2 190.3,1149.2 190.0,1160.0C189.7,1170.8 191.7,1187.8 190.0,1195.0C188.3,1202.2 183.7,1202.5 180.0,1203.0C176.3,1203.5 172.2,1203.5 168.0,1198.0C163.8,1192.5 157.2,1178.0 155.0,1170.0C152.8,1162.0 151.7,1155.8 155.0,1150.0Z" fill="#2a1826"/>
<linearGradient id="llg" x1="95" y1="1165" x2="171" y2="1197" gradientUnits="userSpaceOnUse">
<stop offset="0" stop-color="#d8c2b6"/><stop offset="0.2" stop-color="#c8b4b2"/><stop offset="0.4" stop-color="#b4a6ba"/><stop offset="0.55" stop-color="#a898b8"/><stop offset="0.62" stop-color="#3c2040"/><stop offset="0.7" stop-color="#1e0c1c"/><stop offset="1" stop-color="#1e0c1c"/></linearGradient>
<path id="llobe" d="M93.2,1200.0C93.0,1195.3 94.0,1189.7 95.0,1185.0C96.0,1180.3 97.2,1176.2 99.0,1172.0C100.8,1167.8 103.3,1163.7 106.0,1160.0C108.7,1156.3 111.5,1153.3 115.0,1150.0C118.5,1146.7 123.2,1143.2 127.0,1140.0C130.8,1136.8 134.0,1133.6 138.0,1131.0C142.0,1128.4 147.0,1126.0 151.0,1124.5C155.0,1123.0 159.7,1120.2 162.0,1122.0C164.3,1123.8 165.3,1129.5 165.0,1135.0C164.7,1140.5 160.5,1147.8 160.0,1155.0C159.5,1162.2 160.3,1171.8 162.0,1178.0C163.7,1184.2 168.5,1186.5 170.0,1192.0C171.5,1197.5 171.6,1204.3 171.0,1211.0C170.4,1217.7 168.6,1226.8 166.2,1232.2C163.8,1237.7 161.4,1241.2 156.6,1243.7C151.8,1246.2 143.9,1248.2 137.5,1247.5C131.1,1246.8 124.0,1243.3 118.3,1239.8C112.5,1236.3 106.7,1230.9 103.0,1226.4C99.3,1221.9 97.6,1217.4 96.0,1213.0C94.4,1208.6 93.4,1204.7 93.2,1200.0Z" fill="url(#llg)"/>
<clipPath id="cll"><use href="#llobe"/></clipPath>
<g clip-path="url(#cll)">
<path d="M140.0,1150.0C141.2,1145.0 148.7,1140.0 152.0,1140.0C155.3,1140.0 159.0,1144.2 160.0,1150.0C161.0,1155.8 160.5,1171.7 158.0,1175.0C155.5,1178.3 148.0,1174.2 145.0,1170.0C142.0,1165.8 138.8,1155.0 140.0,1150.0Z" fill="#3a2236" opacity="0.6" filter="url(#soft2)"/>
<path d="M120.0,1178.0C122.8,1173.0 129.8,1168.8 133.0,1170.0C136.2,1171.2 138.2,1177.5 139.0,1185.0C139.8,1192.5 139.3,1207.2 138.0,1215.0C136.7,1222.8 133.8,1230.2 131.0,1232.0C128.2,1233.8 123.5,1231.3 121.0,1226.0C118.5,1220.7 116.2,1208.0 116.0,1200.0C115.8,1192.0 117.2,1183.0 120.0,1178.0Z" fill="#a8a0c0" opacity="0.8" filter="url(#soft2)"/>
<path d="M116.0,1172.0C119.7,1166.3 129.8,1163.8 134.0,1166.0C138.2,1168.2 140.0,1176.3 141.0,1185.0C142.0,1193.7 141.5,1209.5 140.0,1218.0C138.5,1226.5 135.5,1234.0 132.0,1236.0C128.5,1238.0 122.3,1236.0 119.0,1230.0C115.7,1224.0 112.5,1209.7 112.0,1200.0C111.5,1190.3 112.3,1177.7 116.0,1172.0Z" fill="#d0cce6" filter="url(#blotch)"/>
<path d="M101.0,1188.0C102.7,1182.7 109.2,1180.0 112.0,1182.0C114.8,1184.0 118.0,1193.3 118.0,1200.0C118.0,1206.7 114.7,1219.7 112.0,1222.0C109.3,1224.3 103.8,1219.7 102.0,1214.0C100.2,1208.3 99.3,1193.3 101.0,1188.0Z" fill="#dccdc2" opacity="0.8" filter="url(#soft2)"/>
<path d="M105.0,1228.0C109.2,1225.3 117.5,1236.5 125.0,1240.0C132.5,1243.5 142.8,1249.7 150.0,1249.0C157.2,1248.3 164.3,1234.8 168.0,1236.0C171.7,1237.2 183.3,1252.7 172.0,1256.0C160.7,1259.3 111.2,1260.7 100.0,1256.0C88.8,1251.3 100.8,1230.7 105.0,1228.0Z" fill="#6a2a4a" opacity="0.75" filter="url(#soft2)"/>
<linearGradient id="spmg" x1="95" y1="1165" x2="171" y2="1197" gradientUnits="userSpaceOnUse"><stop offset="0.5" stop-color="#fff"/><stop offset="0.66" stop-color="#000"/></linearGradient>
<mask id="spm"><rect x="85" y="1107" width="100" height="145" fill="url(#spmg)"/></mask>
<g mask="url(#spm)"><rect x="85" y="1107" width="90" height="145" fill="#000" filter="url(#speck)" opacity="0.95"/></g>
</g>
<radialGradient id="rlg" cx="0.6" cy="0.45" r="0.62">
<stop offset="0" stop-color="#2e1e20"/><stop offset="0.6" stop-color="#3a2a2c"/><stop offset="1" stop-color="#4a3438"/></radialGradient>
<path id="rlobe" d="M186.0,1125.0C187.5,1121.2 188.8,1117.2 192.0,1115.0C195.2,1112.8 200.3,1111.8 205.0,1111.5C209.7,1111.2 215.0,1111.4 220.0,1113.0C225.0,1114.6 230.7,1117.3 235.0,1121.0C239.3,1124.7 243.0,1129.8 246.0,1135.0C249.0,1140.2 251.3,1145.3 253.0,1152.0C254.7,1158.7 255.7,1167.0 256.0,1175.0C256.3,1183.0 256.2,1192.8 255.0,1200.0C253.8,1207.2 251.8,1213.2 249.0,1218.0C246.2,1222.8 242.5,1226.5 238.0,1229.0C233.5,1231.5 227.5,1233.0 222.0,1233.0C216.5,1233.0 209.5,1230.8 205.0,1229.0C200.5,1227.2 197.7,1225.2 195.0,1222.0C192.3,1218.8 190.8,1214.5 189.0,1210.0C187.2,1205.5 185.2,1200.8 184.0,1195.0C182.8,1189.2 182.3,1181.7 182.0,1175.0C181.7,1168.3 181.8,1161.2 182.0,1155.0C182.2,1148.8 182.3,1143.0 183.0,1138.0C183.7,1133.0 184.5,1128.8 186.0,1125.0Z" fill="url(#rlg)"/>
<clipPath id="crl"><use href="#rlobe"/></clipPath>
<g clip-path="url(#crl)">
<rect x="180" y="1107" width="80" height="145" fill="#fff" filter="url(#speck2)" opacity="0.55"/>
<path d="M184.0,1142.0C185.7,1138.0 190.7,1135.0 194.0,1136.0C197.3,1137.0 202.2,1143.2 204.0,1148.0C205.8,1152.8 205.8,1160.0 205.0,1165.0C204.2,1170.0 201.5,1175.8 199.0,1178.0C196.5,1180.2 192.5,1181.0 190.0,1178.0C187.5,1175.0 185.0,1166.0 184.0,1160.0C183.0,1154.0 182.3,1146.0 184.0,1142.0Z" fill="#7a7094" opacity="0.6" filter="url(#soft2)"/>
<path d="M183.0,1136.0C184.7,1130.2 189.2,1129.0 192.0,1130.0C194.8,1131.0 197.3,1138.7 200.0,1142.0C202.7,1145.3 207.0,1146.0 208.0,1150.0C209.0,1154.0 207.3,1161.0 206.0,1166.0C204.7,1171.0 202.7,1177.0 200.0,1180.0C197.3,1183.0 193.0,1186.5 190.0,1184.0C187.0,1181.5 183.2,1173.0 182.0,1165.0C180.8,1157.0 181.3,1141.8 183.0,1136.0Z" fill="#c8c2e0" filter="url(#blotch)"/>
<path d="M190.0,1150.0C191.3,1147.2 195.2,1144.7 197.0,1146.0C198.8,1147.3 201.2,1154.3 201.0,1158.0C200.8,1161.7 198.0,1167.2 196.0,1168.0C194.0,1168.8 190.0,1166.0 189.0,1163.0C188.0,1160.0 188.7,1152.8 190.0,1150.0Z" fill="#d8d2ea" opacity="0.8" filter="url(#soft)"/>
<path d="M192.0,1195.0C194.3,1190.3 205.3,1188.3 212.0,1190.0C218.7,1191.7 230.3,1199.7 232.0,1205.0C233.7,1210.3 227.7,1219.8 222.0,1222.0C216.3,1224.2 203.0,1222.5 198.0,1218.0C193.0,1213.5 189.7,1199.7 192.0,1195.0Z" fill="#76606c" opacity="0.6" filter="url(#soft4)"/>
<path d="M195.0,1224.0C195.8,1222.3 207.5,1234.2 215.0,1235.0C222.5,1235.8 233.8,1233.2 240.0,1229.0C246.2,1224.8 249.0,1208.2 252.0,1210.0C255.0,1211.8 265.0,1234.2 258.0,1240.0C251.0,1245.8 220.5,1247.7 210.0,1245.0C199.5,1242.3 194.2,1225.7 195.0,1224.0Z" fill="#7a2a3a" opacity="0.6" filter="url(#soft2)"/>
</g>
<path d="M157.0,1126.0C158.2,1122.2 161.3,1120.8 164.0,1119.0C166.7,1117.2 169.7,1116.2 173.0,1115.5C176.3,1114.8 181.0,1114.4 184.0,1114.5C187.0,1114.6 190.5,1113.9 191.0,1116.0C191.5,1118.1 188.3,1123.0 187.0,1127.0C185.7,1131.0 184.2,1136.2 183.0,1140.0C181.8,1143.8 181.8,1147.7 180.0,1150.0C178.2,1152.3 175.0,1153.7 172.0,1154.0C169.0,1154.3 164.5,1154.0 162.0,1152.0C159.5,1150.0 157.8,1146.3 157.0,1142.0C156.2,1137.7 155.8,1129.8 157.0,1126.0Z" fill="#ddd0c0"/>
<path d="M157.0,1132.0C158.0,1128.8 162.2,1127.7 164.0,1129.0C165.8,1130.3 167.8,1136.5 168.0,1140.0C168.2,1143.5 166.7,1148.7 165.0,1150.0C163.3,1151.3 159.3,1151.0 158.0,1148.0C156.7,1145.0 156.0,1135.2 157.0,1132.0Z" fill="#d8d4e4" opacity="0.9" filter="url(#soft)"/>
<path d="M176.0,1130.0C177.7,1126.2 183.8,1122.0 186.0,1122.0C188.2,1122.0 189.5,1126.0 189.0,1130.0C188.5,1134.0 185.2,1143.5 183.0,1146.0C180.8,1148.5 177.2,1147.7 176.0,1145.0C174.8,1142.3 174.3,1133.8 176.0,1130.0Z" fill="#d6c0b0" opacity="0.7" filter="url(#soft2)"/>
<path d="M157.0,1163.0C157.8,1160.0 162.7,1160.0 166.0,1160.0C169.3,1160.0 174.7,1161.0 177.0,1163.0C179.3,1165.0 180.7,1169.2 180.0,1172.0C179.3,1174.8 176.2,1179.0 173.0,1180.0C169.8,1181.0 163.7,1180.8 161.0,1178.0C158.3,1175.2 156.2,1166.0 157.0,1163.0Z" fill="#cdbfc4"/>
</g></g>
<g clip-path="url(#clipR)"><g filter="url(#soft)">
<rect x="305.3" y="1106.8" width="176" height="144.8" fill="url(#bgR)"/>
<path d="M440.0,1150.0C445.0,1135.0 473.0,1135.0 480.0,1150.0C487.0,1165.0 487.0,1225.0 482.0,1240.0C477.0,1255.0 457.0,1255.0 450.0,1240.0C443.0,1225.0 435.0,1165.0 440.0,1150.0Z" fill="#d2e6e8" opacity="0.9" filter="url(#soft4)"/>
<path d="M320.0,1235.0C330.0,1234.7 360.0,1248.3 380.0,1250.0C400.0,1251.7 425.0,1249.2 440.0,1245.0C455.0,1240.8 464.2,1223.8 470.0,1225.0C475.8,1226.2 500.0,1247.5 475.0,1252.0C450.0,1256.5 345.8,1254.8 320.0,1252.0C294.2,1249.2 310.0,1235.3 320.0,1235.0Z" fill="#cdd1d6" filter="url(#soft4)"/>
<radialGradient id="tg1" cx="0.45" cy="0.4" r="0.7">
<stop offset="0" stop-color="#eed8cc"/><stop offset="0.6" stop-color="#e0bcac"/><stop offset="1" stop-color="#cea090"/></radialGradient>
<radialGradient id="tg2" cx="0.4" cy="0.45" r="0.7">
<stop offset="0" stop-color="#f2e6da"/><stop offset="0.6" stop-color="#e8d4c6"/><stop offset="1" stop-color="#d6b4a4"/></radialGradient>
<radialGradient id="tg3" cx="0.35" cy="0.45" r="0.75">
<stop offset="0" stop-color="#ecd6c8"/><stop offset="0.6" stop-color="#dfbaaa"/><stop offset="1" stop-color="#cf9f8f"/></radialGradient>
<path d="M378.0,1162.0C381.3,1158.3 396.0,1156.7 400.0,1160.0C404.0,1163.3 403.3,1174.5 402.0,1182.0C400.7,1189.5 395.0,1202.0 392.0,1205.0C389.0,1208.0 386.0,1203.8 384.0,1200.0C382.0,1196.2 381.0,1188.3 380.0,1182.0C379.0,1175.7 374.7,1165.7 378.0,1162.0Z" fill="#7a5448"/>
<path id="upp" d="M351.0,1142.0C351.3,1137.0 353.7,1134.8 356.0,1132.0C358.3,1129.2 361.7,1127.0 365.0,1125.0C368.3,1123.0 371.8,1121.2 376.0,1120.0C380.2,1118.8 384.7,1118.0 390.0,1117.5C395.3,1117.0 402.2,1116.8 408.0,1117.0C413.8,1117.2 419.5,1117.8 425.0,1118.5C430.5,1119.2 437.2,1119.6 441.0,1121.0C444.8,1122.4 446.8,1123.8 448.0,1127.0C449.2,1130.2 448.7,1135.7 448.0,1140.0C447.3,1144.3 446.3,1149.5 444.0,1153.0C441.7,1156.5 437.3,1158.8 434.0,1161.0C430.7,1163.2 428.0,1164.3 424.0,1166.0C420.0,1167.7 414.8,1169.8 410.0,1171.0C405.2,1172.2 400.0,1172.8 395.0,1173.0C390.0,1173.2 385.0,1172.7 380.0,1172.0C375.0,1171.3 369.3,1170.7 365.0,1169.0C360.7,1167.3 356.3,1166.5 354.0,1162.0C351.7,1157.5 350.7,1147.0 351.0,1142.0Z" fill="url(#tg3)"/>
<path d="M412.0,1132.0C414.7,1129.3 419.7,1126.7 424.0,1126.0C428.3,1125.3 434.8,1125.7 438.0,1128.0C441.2,1130.3 442.7,1136.0 443.0,1140.0C443.3,1144.0 441.8,1148.7 440.0,1152.0C438.2,1155.3 435.3,1159.3 432.0,1160.0C428.7,1160.7 423.3,1157.7 420.0,1156.0C416.7,1154.3 414.0,1152.3 412.0,1150.0C410.0,1147.7 408.0,1145.0 408.0,1142.0C408.0,1139.0 409.3,1134.7 412.0,1132.0Z" fill="#7a6650" filter="url(#soft)"/>
<path d="M413.0,1134.0C414.0,1130.2 421.8,1129.3 426.0,1129.0C430.2,1128.7 435.7,1129.5 438.0,1132.0C440.3,1134.5 441.0,1140.7 440.0,1144.0C439.0,1147.3 435.3,1150.7 432.0,1152.0C428.7,1153.3 423.2,1155.0 420.0,1152.0C416.8,1149.0 412.0,1137.8 413.0,1134.0Z" fill="#3e3226" filter="url(#blotch)"/>
<path d="M424.0,1135.0C424.7,1132.3 431.7,1130.8 434.0,1132.0C436.3,1133.2 438.7,1139.3 438.0,1142.0C437.3,1144.7 432.3,1149.2 430.0,1148.0C427.7,1146.8 423.3,1137.7 424.0,1135.0Z" fill="#7a6a5a" opacity="0.8" filter="url(#soft2)"/>
<path d="M370.0,1128.0C374.0,1123.7 385.3,1122.0 392.0,1122.0C398.7,1122.0 407.8,1123.3 410.0,1128.0C412.2,1132.7 409.2,1145.0 405.0,1150.0C400.8,1155.0 391.2,1158.3 385.0,1158.0C378.8,1157.7 370.5,1153.0 368.0,1148.0C365.5,1143.0 366.0,1132.3 370.0,1128.0Z" fill="#e8c8b8" opacity="0.8" filter="url(#soft2)"/>
<path d="M353.0,1140.0C353.7,1135.3 358.8,1132.0 362.0,1132.0C365.2,1132.0 370.7,1135.3 372.0,1140.0C373.3,1144.7 372.3,1156.7 370.0,1160.0C367.7,1163.3 360.8,1163.3 358.0,1160.0C355.2,1156.7 352.3,1144.7 353.0,1140.0Z" fill="#d49a8a" opacity="0.7" filter="url(#soft2)"/>
<path d="M412.0,1155.0C413.8,1152.3 421.7,1150.8 425.0,1152.0C428.3,1153.2 432.0,1158.7 432.0,1162.0C432.0,1165.3 428.0,1171.0 425.0,1172.0C422.0,1173.0 416.2,1170.8 414.0,1168.0C411.8,1165.2 410.2,1157.7 412.0,1155.0Z" fill="#ead0c4" opacity="0.9" filter="url(#soft)"/>
<path d="M356,1146 C362,1136 372,1132 380,1136 M357,1154 C364,1146 374,1144 384,1148 M362,1162 C370,1156 380,1156 390,1160 M378,1128 C386,1124 396,1126 402,1132" stroke="#b57868" stroke-width="1.2" fill="none" opacity="0.8"/>
<path d="M384.0,1122.0C387.2,1119.8 400.3,1118.3 405.0,1119.0C409.7,1119.7 412.8,1123.5 412.0,1126.0C411.2,1128.5 404.3,1133.0 400.0,1134.0C395.7,1135.0 388.7,1134.0 386.0,1132.0C383.3,1130.0 380.8,1124.2 384.0,1122.0Z" fill="#f4e4da" opacity="0.8" filter="url(#soft2)"/>
<path d="M390.0,1140.0C392.5,1137.8 400.8,1135.7 404.0,1137.0C407.2,1138.3 410.0,1145.2 409.0,1148.0C408.0,1150.8 401.3,1153.7 398.0,1154.0C394.7,1154.3 390.3,1152.3 389.0,1150.0C387.7,1147.7 387.5,1142.2 390.0,1140.0Z" fill="#f0dcd0" opacity="0.7" filter="url(#soft2)"/>
<path d="M362.0,1124.0C362.7,1122.2 371.0,1119.5 374.0,1120.0C377.0,1120.5 380.7,1125.2 380.0,1127.0C379.3,1128.8 373.0,1131.5 370.0,1131.0C367.0,1130.5 361.3,1125.8 362.0,1124.0Z" fill="#f0d8cc" opacity="0.8" filter="url(#soft)"/>
<path d="M350.0,1170.0C350.0,1168.7 361.7,1166.5 370.0,1166.0C378.3,1165.5 390.8,1166.3 400.0,1167.0C409.2,1167.7 425.0,1168.7 425.0,1170.0C425.0,1171.3 409.2,1174.3 400.0,1175.0C390.8,1175.7 378.3,1174.8 370.0,1174.0C361.7,1173.2 350.0,1171.3 350.0,1170.0Z" fill="#8a5a4c" opacity="0.7" filter="url(#soft)"/>
<path id="lowL" d="M317.6,1196.0C318.1,1189.5 321.3,1185.6 324.0,1182.0C326.7,1178.4 328.2,1176.6 334.0,1174.4C339.8,1172.2 351.6,1169.7 358.8,1169.0C366.0,1168.3 372.8,1168.7 377.0,1170.5C381.2,1172.3 382.5,1174.2 384.0,1180.0C385.5,1185.8 386.0,1196.3 386.0,1205.0C386.0,1213.7 386.3,1226.3 384.0,1232.0C381.7,1237.7 376.2,1237.5 372.0,1239.0C367.8,1240.5 365.1,1241.3 358.8,1241.0C352.5,1240.7 340.3,1240.3 334.0,1237.0C327.7,1233.7 323.7,1227.8 321.0,1221.0C318.3,1214.2 317.1,1202.5 317.6,1196.0Z" fill="url(#tg1)"/>
<path id="lowR" d="M389.0,1183.0C391.6,1177.3 396.2,1172.2 401.9,1170.8C407.6,1169.4 416.2,1172.0 423.4,1174.4C430.6,1176.8 439.0,1181.7 445.0,1185.0C451.0,1188.3 455.7,1190.4 459.3,1194.0C462.9,1197.6 465.9,1201.8 466.5,1206.6C467.1,1211.4 466.0,1218.0 463.0,1222.8C460.0,1227.6 455.7,1232.1 448.5,1235.4C441.3,1238.7 428.8,1241.6 419.8,1242.5C410.8,1243.4 400.3,1242.8 394.7,1240.7C389.1,1238.6 387.4,1236.0 386.0,1230.0C384.6,1224.0 385.5,1212.8 386.0,1205.0C386.5,1197.2 386.4,1188.7 389.0,1183.0Z" fill="url(#tg2)"/>
<path d="M393.0,1188.0C394.2,1180.0 399.5,1179.2 402.0,1182.0C404.5,1184.8 407.7,1196.7 408.0,1205.0C408.3,1213.3 406.2,1227.8 404.0,1232.0C401.8,1236.2 396.8,1237.3 395.0,1230.0C393.2,1222.7 391.8,1196.0 393.0,1188.0Z" fill="#f6ece2" opacity="0.9" filter="url(#soft2)"/>
<path d="M404.0,1150.0C405.7,1147.7 411.3,1146.0 413.0,1148.0C414.7,1150.0 414.8,1158.3 414.0,1162.0C413.2,1165.7 409.8,1170.0 408.0,1170.0C406.2,1170.0 403.7,1165.3 403.0,1162.0C402.3,1158.7 402.3,1152.3 404.0,1150.0Z" fill="#4a3a2e" opacity="0.85" filter="url(#soft)"/>
<path d="M413.0,1153.0C413.8,1150.7 417.7,1150.2 420.0,1151.0C422.3,1151.8 425.5,1155.2 427.0,1158.0C428.5,1160.8 429.7,1165.8 429.0,1168.0C428.3,1170.2 425.3,1171.5 423.0,1171.0C420.7,1170.5 416.7,1168.0 415.0,1165.0C413.3,1162.0 412.2,1155.3 413.0,1153.0Z" fill="#ecd6cc" filter="url(#soft)"/>
<path d="M420.0,1185.0C423.3,1182.0 438.7,1186.7 445.0,1190.0C451.3,1193.3 458.0,1200.8 458.0,1205.0C458.0,1209.2 450.5,1214.5 445.0,1215.0C439.5,1215.5 429.2,1213.0 425.0,1208.0C420.8,1203.0 416.7,1188.0 420.0,1185.0Z" fill="#efe0d4" opacity="0.7" filter="url(#soft2)"/>
<path d="M335.0,1200.0C338.3,1195.0 353.3,1193.3 360.0,1195.0C366.7,1196.7 374.7,1204.5 375.0,1210.0C375.3,1215.5 367.8,1225.5 362.0,1228.0C356.2,1230.5 344.5,1229.7 340.0,1225.0C335.5,1220.3 331.7,1205.0 335.0,1200.0Z" fill="#e8c6b6" opacity="0.7" filter="url(#soft2)"/>
<path d="M330.0,1178.0C334.7,1174.7 351.7,1172.3 360.0,1172.0C368.3,1171.7 377.0,1172.2 380.0,1176.0C383.0,1179.8 383.0,1191.7 378.0,1195.0C373.0,1198.3 357.7,1196.5 350.0,1196.0C342.3,1195.5 335.3,1195.0 332.0,1192.0C328.7,1189.0 325.3,1181.3 330.0,1178.0Z" fill="#8c6a60" opacity="0.45" filter="url(#soft2)"/>
<path d="M381.0,1176.0C382.2,1170.3 390.7,1173.2 392.0,1178.0C393.3,1182.8 390.2,1199.3 389.0,1205.0C387.8,1210.7 386.3,1216.8 385.0,1212.0C383.7,1207.2 379.8,1181.7 381.0,1176.0Z" fill="#6a483c" opacity="0.7" filter="url(#soft)"/>
<path d="M402.0,1224.0C406.2,1222.7 420.3,1220.5 430.0,1220.0C439.7,1219.5 458.3,1220.0 460.0,1221.0C461.7,1222.0 449.2,1224.8 440.0,1226.0C430.8,1227.2 411.3,1228.3 405.0,1228.0C398.7,1227.7 397.8,1225.3 402.0,1224.0Z" fill="#b89080" opacity="0.45" filter="url(#soft)"/>
<clipPath id="ctis"><use href="#lowL"/><use href="#lowR"/><use href="#upp"/></clipPath>
<g clip-path="url(#ctis)"><rect x="305" y="1110" width="176" height="142" fill="#000" filter="url(#speck3)" opacity="0.8"/></g>
<g clip-path="url(#ctis)"><path d="M325,1170L385,1168L385,1200L325,1200Z" fill="#000" filter="url(#speck4)" opacity="0.65"/></g>
</g></g>
</svg>
</body></html>
